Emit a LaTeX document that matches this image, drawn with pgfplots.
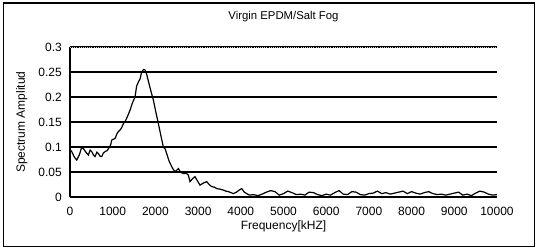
\documentclass[border=0pt]{standalone}
\usepackage{pgfplots}
\pgfplotsset{compat=1.18}
\usepackage{fontspec}
\setmainfont{Liberation Sans}
\begin{document}
\fontsize{9}{10}\selectfont
\begin{tikzpicture}
\begin{axis}[
  scale only axis,
  width=320pt, height=112.5pt,
  xmin=0, xmax=10000, ymin=0, ymax=0.3,
  xtick={0,1000,...,10000},
  ytick={0,0.05,0.1,0.15,0.2,0.25,0.3},
  yticklabels={0,0.05,0.1,0.15,0.2,0.25,0.3},
  xticklabels={0,1000,2000,3000,4000,5000,6000,7000,8000,9000,10000},
  scaled x ticks=false, scaled y ticks=false,
  axis x line*=bottom, axis y line*=left,
  axis line style={line width=1pt,-},
  major tick length=0pt,
  ymajorgrids,
  grid style={black, line width=1pt},
  xticklabel style={yshift=-4pt},
  yticklabel style={xshift=-3pt},
  xlabel={Frequency[kHZ]},
  ylabel={Spectrum Amplitud},
  xlabel style={yshift=2pt},
  ylabel style={yshift=2pt},
  clip=false,
]
\addplot[black, line width=0.9pt] coordinates {
(0,0.095) (40,0.091) (100,0.080) (157,0.074) (220,0.085) (270,0.099) (312,0.097) (370,0.090)
(430,0.084) (470,0.094) (508,0.091) (550,0.084) (585,0.081) (630,0.090) (664,0.087)
(700,0.082) (742,0.081) (780,0.088) (820,0.091) (870,0.093) (921,0.100) (950,0.104)
(976,0.114) (1020,0.116) (1054,0.117) (1100,0.127) (1132,0.131) (1170,0.134) (1210,0.139)
(1250,0.147) (1288,0.151) (1340,0.160) (1405,0.174) (1460,0.188) (1522,0.200)
(1560,0.222) (1600,0.230) (1639,0.236) (1678,0.250) (1720,0.255) (1760,0.254) (1790,0.247)
(1811,0.240) (1858,0.224) (1900,0.210) (1952,0.194) (2010,0.170) (2069,0.147) (2130,0.122)
(2186,0.100) (2230,0.096) (2264,0.087) (2320,0.072) (2381,0.061) (2420,0.055) (2459,0.051)
(2500,0.054) (2537,0.057) (2590,0.050) (2654,0.047) (2720,0.048) (2771,0.044) (2810,0.031)
(2860,0.036) (2927,0.041) (2980,0.033) (3044,0.024) (3120,0.028) (3201,0.031) (3260,0.025)
(3318,0.021) (3380,0.020) (3435,0.017) (3510,0.016) (3591,0.014) (3650,0.012) (3708,0.011)
(3770,0.009) (3825,0.007) (3900,0.010) (3960,0.014) (4021,0.017) (4080,0.010) (4138,0.007)
(4200,0.004) (4300,0.005) (4400,0.003) (4500,0.006) (4600,0.010) (4700,0.013) (4800,0.011)
(4900,0.004) (5000,0.007) (5100,0.012) (5200,0.009) (5300,0.005) (5400,0.006) (5500,0.004)
(5600,0.010) (5700,0.009) (5800,0.005) (5900,0.003) (6000,0.006) (6100,0.004) (6200,0.009)
(6300,0.013) (6400,0.006) (6500,0.005) (6600,0.011) (6700,0.010) (6800,0.005) (6900,0.004)
(7000,0.007) (7100,0.008) (7200,0.012) (7300,0.007) (7400,0.009) (7500,0.006) (7600,0.008)
(7700,0.010) (7800,0.012) (7900,0.007) (8000,0.011) (8100,0.008) (8200,0.006) (8300,0.009)
(8400,0.011) (8500,0.007) (8600,0.005) (8700,0.006) (8800,0.004) (8900,0.006) (9000,0.008)
(9100,0.010) (9200,0.004) (9300,0.006) (9400,0.003) (9500,0.008) (9600,0.012) (9700,0.010)
(9800,0.006) (9900,0.004) (10000,0.005)
};
\draw[gray!40, densely dotted, line width=0.6pt] (rel axis cs:0,1) -- (rel axis cs:1,1);
\node[anchor=base, font=\fontsize{8.5}{10}\selectfont] at ([yshift=21pt]rel axis cs:0.5,1) {Virgin EPDM/Salt Fog};
\path ([xshift=-52.5pt,yshift=-40.5pt]rel axis cs:0,0) rectangle ([xshift=30pt,yshift=35.25pt]rel axis cs:1,1);
\draw[line width=0.8pt] ([xshift=-50pt,yshift=-37pt]rel axis cs:0,0) rectangle ([xshift=28pt,yshift=33pt]rel axis cs:1,1);
\end{axis}
\end{tikzpicture}
\end{document}
